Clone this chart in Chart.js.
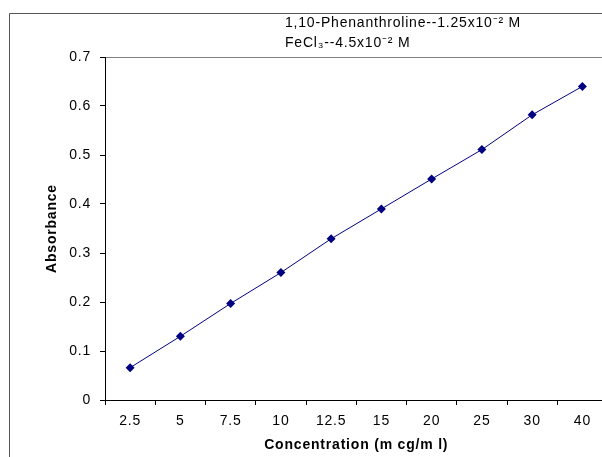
<!DOCTYPE html>
<html>
<head>
<meta charset="utf-8">
<script src="https://cdn.jsdelivr.net/npm/chart.js@4"></script>
<style>
    html, body { margin: 0; padding: 0; background: #fff; overflow: hidden; }
    canvas { display: block; }
</style>
</head>
<body>
<canvas id="myChart" width="612" height="457"></canvas>
<script>
const labels = ['2.5', '5', '7.5', '10', '12.5', '15', '20', '25', '30', '40'];

const absorbance = [0.066, 0.13, 0.197, 0.26, 0.329, 0.39, 0.451, 0.511, 0.582, 0.64];

const yTicks = [0, 0.1, 0.2, 0.3, 0.4, 0.5, 0.6, 0.7];

const noteLines = ['1,10-Phenanthroline--1.25x10\u207B\u00B2 M', 'FeCl\u2083--4.5x10\u207B\u00B2 M'];

Chart.defaults.font.family = '"Liberation Sans", Arial, sans-serif';
Chart.defaults.color = '#000';

// Excel spreads its letters a bit
const spacing = {
    id: 'spacing',
    beforeUpdate(chart) { chart.ctx.letterSpacing = '0.8px'; },
    beforeDraw(chart) { chart.ctx.letterSpacing = '0.8px'; }
};

// frame + notes at the top
const decor = {
    id: 'decor',
    beforeDraw(chart) {
        const ctx = chart.ctx;
        const a = chart.chartArea;
        ctx.save();
        ctx.strokeStyle = '#555';
        ctx.lineWidth = 1;
        ctx.beginPath();
        ctx.moveTo(9.5, chart.height);
        ctx.lineTo(9.5, 13.5);
        ctx.lineTo(chart.width, 13.5);
        ctx.stroke();

        ctx.strokeStyle = '#808080';
        ctx.beginPath();
        ctx.moveTo(a.left, a.top + 0.5);
        ctx.lineTo(a.right, a.top + 0.5);
        ctx.stroke();

        ctx.fillStyle = '#000';
        ctx.font = '14px "Liberation Sans", Arial, sans-serif';
        ctx.textBaseline = 'middle';
        ctx.fillText(noteLines[0], 285, 23);
        ctx.fillText(noteLines[1], 285, 43);
        ctx.restore();
    }
};

const data = {
    labels: labels,
    datasets: [{
        label: 'Absorbance',
        data: absorbance,
        borderColor: '#000080',
        backgroundColor: '#000080',
        borderWidth: 1,
        pointStyle: 'rectRot',
        pointRadius: 4.5,
        pointBorderWidth: 0,
        tension: 0,
    }]
};

const options = {
    animation: false,
    responsive: false,
    layout: {
        padding: { top: 57, right: 1, left: 0, bottom: 0 }
    },
    plugins: {
        legend: { display: false },
        tooltip: { enabled: false }
    },
    scales: {
        x: {
            type: 'category',
            offset: true,
            afterFit(scale) { scale.height = 57; },
            grid: {
                offset: true,
                drawOnChartArea: false,
                tickLength: 5,
                color: '#000'
            },
            border: { color: '#000', width: 1 },
            ticks: {
                padding: 8,
                maxRotation: 0,
                font: { size: 14 }
            },
            title: {
                display: true,
                text: 'Concentration (m cg/m l)',
                font: { size: 14, weight: 'bold' },
                padding: { top: 0, bottom: 3 }
            }
        },
        y: {
            min: 0,
            max: 0.7,
            afterFit(scale) { scale.width = 105; },
            afterBuildTicks(scale) {
                scale.ticks = yTicks.map(v => ({ value: v }));
            },
            grid: {
                drawOnChartArea: false,
                tickLength: 5,
                color: '#000'
            },
            border: { color: '#000', width: 1 },
            ticks: {
                padding: 9,
                font: { size: 14 },
                callback: v => String(Math.round(v * 10) / 10)
            },
            title: {
                display: true,
                text: 'Absorbance',
                font: { size: 14, weight: 'bold' },
                padding: { top: 44, bottom: 0 }
            }
        }
    }
};

const myChart = new Chart(
    document.getElementById('myChart'),
    {
        type: 'line',
        data,
        options,
        plugins: [spacing, decor]
    }
);
</script>
</body>
</html>
